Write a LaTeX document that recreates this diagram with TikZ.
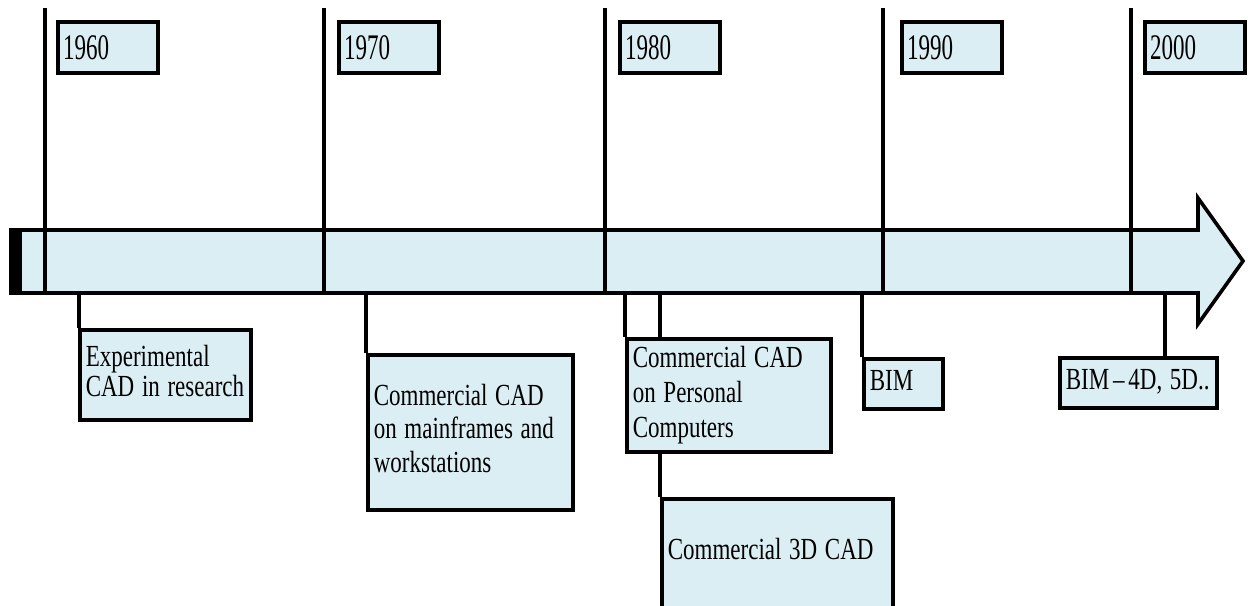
\documentclass[tikz,border=0pt]{standalone}
\usepackage{fontspec}
\usepackage{graphicx}
\setmainfont{Liberation Serif}
\definecolor{boxfill}{RGB}{219,238,244}
\newcommand{\cond}[1]{\scalebox{0.75}[1]{\begin{tabular}{@{}l@{}}#1\end{tabular}}}
\newcommand{\yr}[1]{\scalebox{0.64}[1]{#1}}
\tikzset{
  conn/.style={line width=2.7pt},
  yearbox/.style={draw, line width=2.7pt, fill=boxfill, anchor=north west,
    minimum width=75pt, minimum height=38.25pt, text width=67pt,
    inner xsep=4pt, inner ysep=0pt, align=left,
    font=\fontsize{27pt}{29pt}\selectfont},
  evbox/.style={draw, line width=2.7pt, fill=boxfill, anchor=north west,
    inner xsep=4.5pt, inner ysep=0pt, align=left,
    font=\fontsize{23pt}{25pt}\selectfont},
}
\begin{document}
\begin{tikzpicture}[x=0.75pt,y=-0.75pt]
\useasboundingbox (0,0) rectangle (1248,606);
% main arrow
\draw[conn, fill=boxfill, line join=miter] (11,230) -- (1198,230) -- (1198,198) -- (1243,261) -- (1198,324) -- (1198,293) -- (11,293) -- cycle;
\fill[black] (10,229) rectangle (22,294);
% year lines
\foreach \n/\x in {1960/45,1970/324,1980/605,1990/883,2000/1131}{
  \coordinate (t\n) at (\x,8);
  \coordinate (b\n) at (\x,293);
  \draw[conn] (t\n) -- (b\n);
}
% year boxes
\node[yearbox] (y1960) at (56,20) {\yr{1960}};
\node[yearbox] (y1970) at (337,20) {\yr{1970}};
\node[yearbox] (y1980) at (618,20) {\yr{1980}};
\node[yearbox] (y1990) at (900,20) {\yr{1990}};
\node[yearbox] (y2000) at (1143,20) {\yr{2000}};
% event boxes
\node[evbox, minimum width=128.25pt, minimum height=67.5pt, text width=119.25pt,
  font=\fontsize{23pt}{22pt}\selectfont] (exp) at (78,328) {\cond{Experimental\\CAD in research}};
\node[evbox, minimum width=153.75pt, minimum height=116.25pt, text width=144.75pt] (mf) at (366,353) {\cond{Commercial CAD\\on mainframes and\\workstations}};
\node[evbox, minimum width=153pt, minimum height=84.75pt, text width=144pt,
  font=\fontsize{23pt}{26.5pt}\selectfont] (pc) at (625,337) {\cond{Commercial CAD\\on Personal\\Computers}};
\node[evbox, minimum width=173.25pt, minimum height=81.75pt, text width=164.25pt] (td) at (660,497) {\cond{Commercial 3D CAD}};
\node[evbox, minimum width=59.25pt, minimum height=37.5pt, text width=50.25pt] (bim) at (862,357) {\cond{BIM}};
\node[evbox, minimum width=117.75pt, minimum height=37.5pt, text width=108.75pt] (bimf) at (1058,356) {\cond{BIM\,–\,4D, 5D..}};
% connectors from the arrow
\coordinate (c79) at (79,293);
\coordinate (c366) at (366,293);
\coordinate (c625) at (625,293);
\coordinate (c660) at (660,293);
\coordinate (c862) at (862,293);
\coordinate (c1165) at (1165,293);
\draw[conn] (c79) -- (c79 |- exp.north);
\draw[conn] (c366) -- (c366 |- mf.north);
\draw[conn] (c625) -- (c625 |- pc.north);
\draw[conn] (c660) -- (c660 |- pc.north);
\draw[conn] (c660 |- pc.south) -- (c660 |- td.north);
\draw[conn] (c862) -- (c862 |- bim.north);
\draw[conn] (c1165) -- (c1165 |- bimf.north);
\end{tikzpicture}
\end{document}
